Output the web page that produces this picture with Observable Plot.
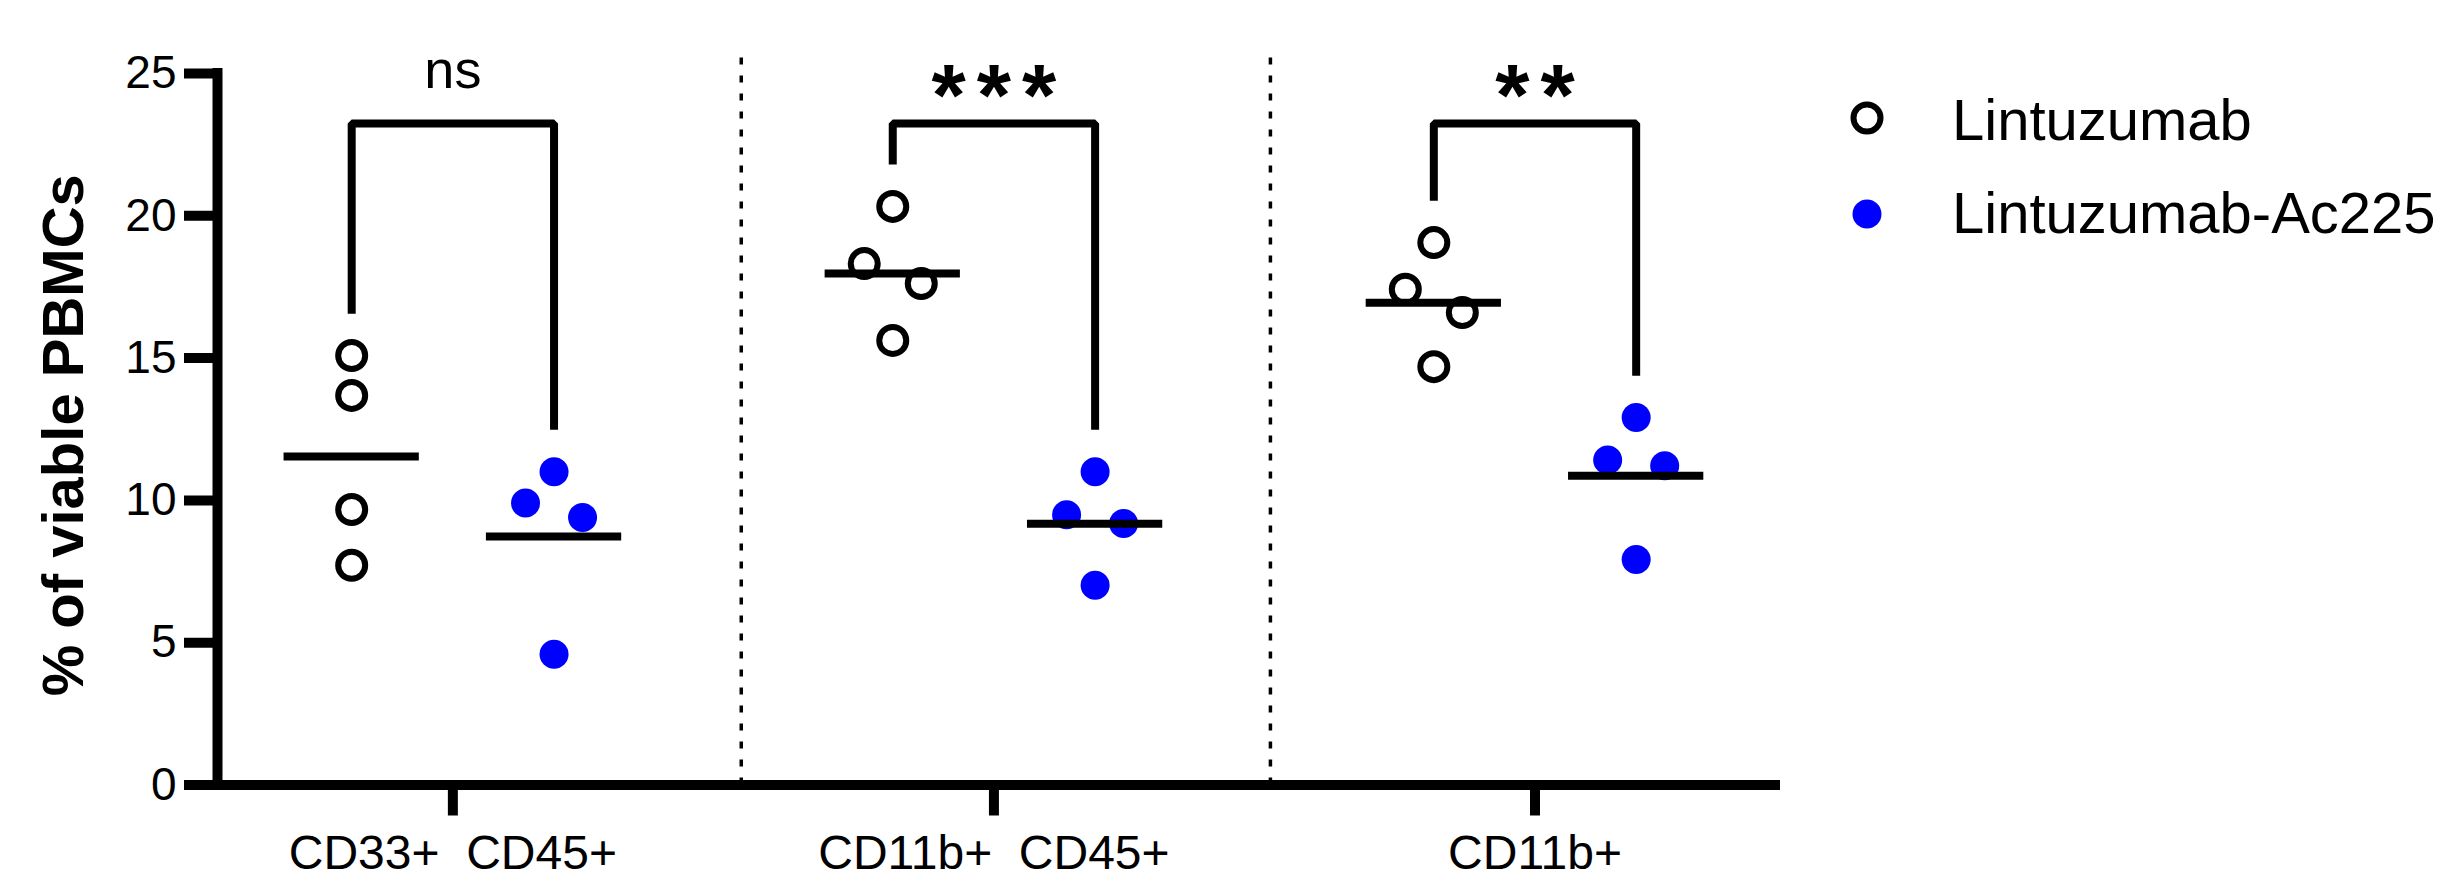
<!DOCTYPE html>
<html><head><meta charset="utf-8">
<script src="https://cdn.jsdelivr.net/npm/d3@7"></script>
<script src="https://cdn.jsdelivr.net/npm/@observablehq/plot@0.6"></script>
<style>
html,body{margin:0;padding:0;background:#fff;overflow:hidden;}
#wrap{position:relative;width:2442px;height:875px;}
#legend{position:absolute;left:0;top:0;pointer-events:none;}
</style></head><body><div id="wrap"></div>
<script>
// ---- data ----
const categories = ["CD33+\u00a0\u00a0CD45+", "CD11b+\u00a0\u00a0CD45+", "CD11b+"];
const treatments = ["Lintuzumab", "Lintuzumab-Ac225"];
const lintuzumab = [[15.09, 13.69, 9.68, 7.72], [20.33, 18.32, 17.62, 15.62], [19.06, 17.42, 16.60, 14.70]];
const lintuzumabAc225 = [[11.01, 9.91, 9.40, 4.59], [11.01, 9.50, 9.19, 7.02], [12.91, 11.42, 11.22, 7.92]];
// column slot of each point inside its scatter column (-1 left, 0 centre, 1 right)
const lintuzumabSlot = [[0, 0, 0, 0], [0, -1, 1, 0], [0, -1, 1, 0]];
const lintuzumabAc225Slot = [[0, -1, 1, 0], [0, -1, 1, 0], [0, -1, 1, 0]];
const significance = ["ns", "***", "**"];
const yTicks = [0, 5, 10, 15, 20, 25];
const yTitle = "% of viable PBMCs";
const bracketTop = 23.24;
const dividers = [0.533, 1.511];
const dividerTop = 25.8;

// ---- layout ----
const groupOffset = 0.187, slotWidth = 0.0527, meanHalf = 0.125, legGap = 1.47;
const xDomain = [-0.435, 2.4445];
const font = "'Liberation Sans', Arial, Helvetica, sans-serif";
const blue = "#0000ff";

const rows = [];
[lintuzumab, lintuzumabAc225].forEach((series, t) => {
  const slots = t === 0 ? lintuzumabSlot : lintuzumabAc225Slot;
  series.forEach((vals, i) => vals.forEach((v, j) => rows.push({
    cat: i, treatment: treatments[t], value: v,
    x: i + (t === 0 ? -groupOffset : groupOffset) + slots[i][j] * slotWidth
  })));
});
const means = [];
[lintuzumab, lintuzumabAc225].forEach((series, t) => series.forEach((vals, i) => means.push({
  cat: i, mean: d3.mean(vals), x: i + (t === 0 ? -groupOffset : groupOffset)
})));
const bracketPts = [];
categories.forEach((c, i) => {
  const l = d3.max(lintuzumab[i]) + legGap, r = d3.max(lintuzumabAc225[i]) + legGap;
  bracketPts.push({cat: i, x: i - groupOffset, y: l}, {cat: i, x: i - groupOffset, y: bracketTop},
                  {cat: i, x: i + groupOffset, y: bracketTop}, {cat: i, x: i + groupOffset, y: r});
});
const sig = significance.map((s, i) => ({cat: i, text: s}));

const plot = Plot.plot({
  width: 2442, height: 875,
  marginLeft: 217, marginRight: 667, marginTop: 73, marginBottom: 90.5,
  style: {fontFamily: font, color: "black", background: "white", overflow: "visible"},
  x: {type: "linear", domain: xDomain},
  y: {domain: [0, 25]},
  marks: [
    Plot.ruleX(dividers, {y1: 0, y2: dividerTop, stroke: "black", strokeWidth: 3.5, strokeDasharray: "7,11"}),
    Plot.dot(rows.filter(d => d.treatment === treatments[0]), {x: "x", y: "value", r: 13.5, stroke: "black", strokeWidth: 6, fill: "white"}),
    Plot.dot(rows.filter(d => d.treatment === treatments[1]), {x: "x", y: "value", r: 14.5, fill: blue, stroke: null}),
    Plot.ruleY(means, {y: "mean", x1: d => d.x - meanHalf, x2: d => d.x + meanHalf, stroke: "black", strokeWidth: 8}),
    Plot.line(bracketPts, {x: "x", y: "y", z: "cat", stroke: "black", strokeWidth: 8, strokeLinejoin: "miter", strokeLinecap: "butt"}),
    Plot.text(sig.filter(d => d.text === "ns"), {x: "cat", y: bracketTop, text: "text", lineAnchor: "bottom", dy: -36, fontSize: 54}),
    Plot.text(sig.filter(d => d.text !== "ns"), {x: "cat", y: bracketTop, text: "text", lineAnchor: "bottom", dy: 1, dx: 5.5, fontSize: 88, fontWeight: "bold"}),
    Plot.text([yTitle], {text: d => d, frameAnchor: "left", textAnchor: "middle", lineAnchor: "middle", rotate: -90, dx: -152.6, dy: 6, fontSize: 58, fontWeight: "bold"}),
    Plot.axisY({ticks: yTicks, tickSize: 33, tickPadding: 8, fontSize: 46, strokeWidth: 10, label: null, tickFormat: d => String(d)}),
    Plot.axisX({ticks: [0, 1, 2], tickFormat: i => categories[i], tickSize: 31, tickPadding: 18.5, fontSize: 48, strokeWidth: 10, label: null}),
    Plot.ruleX([xDomain[0]], {y1: 0, y2: 25, stroke: "black", strokeWidth: 10, strokeLinecap: "square"}),
    Plot.ruleY([0], {x1: xDomain[0], x2: xDomain[1], stroke: "black", strokeWidth: 10, strokeLinecap: "square"})
  ]
});
plot.querySelectorAll("text").forEach(t => { if (t.textContent.includes("*")) t.style.letterSpacing = "11px"; });
document.getElementById("wrap").appendChild(plot);

// ---- legend ----
const leg = d3.select("#wrap").append("svg").attr("id", "legend").attr("width", 2442).attr("height", 875)
  .style("font-family", font);
const items = [
  {label: treatments[0], cy: 118},
  {label: treatments[1], cy: 214}
];
leg.append("circle").attr("cx", 1867).attr("cy", items[0].cy).attr("r", 13.5)
  .attr("fill", "white").attr("stroke", "black").attr("stroke-width", 6);
leg.append("circle").attr("cx", 1867).attr("cy", items[1].cy).attr("r", 14.5).attr("fill", blue);
items.forEach((d, k) => leg.append("text").attr("x", 1952).attr("y", k === 0 ? 140 : 233)
  .attr("font-size", 58).attr("fill", "black").text(d.label));
</script></body></html>
